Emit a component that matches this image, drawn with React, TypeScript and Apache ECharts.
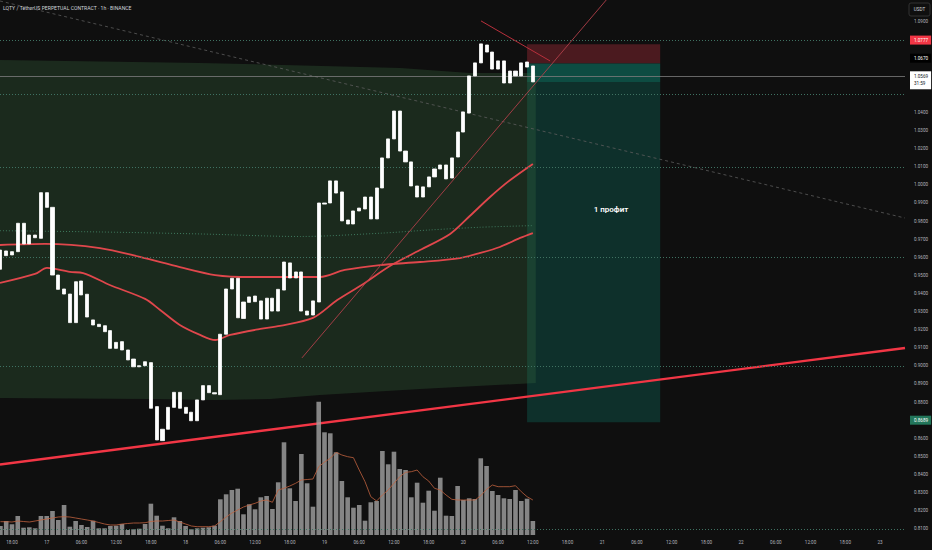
import React, { useEffect, useRef } from "react";
import * as echarts from "echarts";

// hours counted from the 16th, 00:00; first candle = 16th 16:00
const FIRST_HOUR = 16;
const X_MIN = 15.93;
const X_MAX = 172.3;
const PRICE_MIN = 0.8;
const PRICE_MAX = 1.10215;

const OPEN = [0.9534,0.9635,0.9613,0.9631,0.9788,0.9674,0.9723,0.9705,0.9957,0.9876,0.9502,0.9425,0.9397,0.9239,0.9469,0.9396,0.9254,0.9230,0.9222,0.9195,0.9097,0.9134,0.9088,0.9038,0.9001,0.9001,0.9018,0.8775,0.8587,0.8650,0.8771,0.8854,0.8771,0.8744,0.8697,0.8812,0.8891,0.8852,0.8841,0.9175,0.9425,0.9484,0.9262,0.9351,0.9386,0.9359,0.9259,0.9374,0.9303,0.9419,0.9569,0.9486,0.9519,0.9303,0.9281,0.9353,0.9900,0.9900,1.0022,0.9961,0.9806,0.9784,0.9856,0.9867,0.9933,0.9812,0.9983,1.0149,1.0254,1.0408,1.0187,1.0127,0.9994,0.9933,0.9989,1.0044,1.0088,1.0110,1.0038,1.0154,1.0292,1.0397,1.0602,1.0674,1.0773,1.0734,1.0640,1.0685,1.0563,1.0629,1.0602,1.0679,1.0657];
const CLOSE = [0.9640,0.9609,0.9631,0.9788,0.9674,0.9723,0.9708,0.9957,0.9876,0.9502,0.9423,0.9397,0.9239,0.9465,0.9392,0.9270,0.9226,0.9217,0.9189,0.9097,0.9130,0.9088,0.9033,0.8995,0.8995,0.9023,0.8766,0.8591,0.8650,0.8771,0.8854,0.8766,0.8738,0.8697,0.8812,0.8891,0.8852,0.8845,0.9175,0.9425,0.9484,0.9266,0.9353,0.9381,0.9355,0.9259,0.9374,0.9303,0.9423,0.9574,0.9486,0.9519,0.9303,0.9281,0.9359,0.9900,0.9894,1.0022,0.9955,0.9801,0.9784,0.9856,0.9872,0.9933,0.9812,0.9983,1.0149,1.0254,1.0408,1.0187,1.0127,0.9994,0.9933,0.9989,1.0044,1.0088,1.0110,1.0033,1.0149,1.0292,1.0403,1.0602,1.0674,1.0779,1.0734,1.0640,1.0685,1.0563,1.0629,1.0602,1.0674,1.0651,1.0569];
const LOW = [0.9497,0.9585,0.9591,0.9581,0.9659,0.9655,0.9686,0.9701,0.9824,0.9396,0.9396,0.9175,0.9234,0.9226,0.9386,0.9180,0.9180,0.9143,0.9180,0.9094,0.9088,0.8968,0.9018,0.8986,0.8959,0.8995,0.8762,0.8587,0.8563,0.8587,0.8766,0.8756,0.8686,0.8664,0.8692,0.8806,0.8826,0.8826,0.8836,0.9134,0.9419,0.9232,0.9259,0.9239,0.9337,0.9239,0.9241,0.9272,0.9147,0.9364,0.9453,0.9403,0.9038,0.9276,0.9270,0.9348,0.9707,0.9845,0.9917,0.9795,0.9707,0.9707,0.9790,0.9817,0.9806,0.9806,0.9961,1.0138,1.0248,1.0182,1.0038,0.9989,0.9905,0.9928,0.9983,1.0038,0.9961,0.9994,1.0011,1.0149,1.0287,1.0386,1.0524,1.0607,1.0701,1.0624,1.0569,1.0541,1.0513,1.0524,1.0596,1.0591,1.0563];
const HIGH = [0.9657,0.9668,0.9690,0.9830,0.9797,0.9751,0.9747,0.9963,1.0027,0.9880,0.9631,0.9456,0.9419,0.9484,0.9515,0.9400,0.9351,0.9235,0.9244,0.9217,0.9153,0.9143,0.9097,0.9079,0.9033,0.9149,0.9042,0.8784,0.8738,0.8793,0.8977,0.8922,0.8830,0.8784,0.8845,0.8913,0.8981,0.8940,0.9232,0.9456,0.9502,0.9488,0.9392,0.9429,0.9462,0.9425,0.9388,0.9423,0.9432,0.9701,0.9624,0.9547,0.9624,0.9475,0.9475,0.9961,0.9944,1.0187,1.0165,1.0038,0.9834,0.9889,0.9955,0.9955,1.0011,1.0011,1.0215,1.0292,1.0453,1.0414,1.0248,1.0132,1.0055,1.0027,1.0149,1.0121,1.0209,1.0182,1.0221,1.0331,1.0425,1.0629,1.0729,1.0906,1.0850,1.0784,1.0817,1.0701,1.0696,1.0651,1.0767,1.0773,1.0679];

// volume in thousands
const VOLUME = [90,140,107,190,73,77,67,190,190,240,150,300,83,140,100,80,143,67,67,90,93,110,50,57,63,110,313,193,93,67,177,140,90,57,67,73,77,93,357,407,450,463,207,307,257,377,390,260,527,927,467,340,810,517,283,1333,1027,1017,827,540,377,273,300,143,327,340,840,707,833,660,650,377,523,323,443,243,573,193,190,490,350,367,360,767,690,440,400,367,360,450,340,363,140];
const VOLUME_MA = [133,133,130,140,135,130,140,150,160,170,180,183,180,170,160,150,140,125,110,100,100,110,115,120,120,123,135,140,140,145,150,130,110,90,83,83,83,90,133,180,220,250,280,300,317,340,350,327,450,467,490,517,550,555,560,683,730,767,827,800,783,773,650,533,383,340,400,450,517,583,627,633,650,583,540,467,450,400,357,350,350,350,350,393,457,500,483,483,483,493,433,383,350];
const VOLUME_MAX = 1400;

// moving averages [hour, price]
const MA_FAST = [[15.93,0.9458],[21.97,0.9508],[24.05,0.9541],[28.0,0.9519],[30.3,0.9513],[34.9,0.9447],[41.0,0.9370],[43.6,0.9309],[47.0,0.9226],[50.5,0.9171],[53.1,0.9143],[55.7,0.9171],[60.9,0.9204],[64.3,0.9221],[70.0,0.9265],[74.2,0.9364],[78.7,0.9453],[83.3,0.9552],[88.5,0.9640],[93.7,0.9729],[97.1,0.9828],[100.6,0.9933],[104.1,1.0027],[108.0,1.0116]];
const MA_SLOW = [[15.93,0.9668],[23.7,0.9674],[33.2,0.9651],[40.1,0.9602],[47.0,0.9546],[53.1,0.9502],[59.1,0.9491],[64.3,0.9491],[71.2,0.9491],[75.5,0.9530],[81.6,0.9557],[88.5,0.9574],[95.4,0.9596],[98.9,0.9624],[102.3,0.9657],[105.8,0.9707],[108.0,0.9734]];
const VWAP_LINE = [[15.93,0.9747],[33.2,0.9740],[50.5,0.9729],[67.8,0.9715],[81.6,0.9733],[90.2,0.9751],[98.9,0.9766],[108.0,0.9775]];

// shaded range
const BAND_TOP = [[15.93,1.0690],[50.5,1.0674],[85.1,1.0646],[97.1,1.0618],[108.5,1.0618]];
const BAND_BOTTOM = [[15.93,0.8823],[41.8,0.8817],[53.1,0.8812],[62.6,0.8817],[71.2,0.8839],[88.5,0.8872],[108.5,0.8906]];

const LEVELS = [1.0806, 1.0458, 1.0104, 0.9596, 0.8961, 0.8115];
const TRENDLINE = [[15.93,0.8455],[172.3,0.9099]];
const RISE_LINE = [[68.1,0.9044],[125.0,1.1184]];
const FALL_DASH = [[15.93,1.1016],[172.3,0.9817]];
const PEAK_LINE = [[99.04,1.0906],[110.97,1.0685]];

const POS_START = 107;
const POS_END = 130;
const STOP = 1.0777;
const ENTRY = 1.0670;
const TARGET = 0.8689;
const LAST_PRICE = 1.0569;
const COUNTDOWN = "31:59";
const POS_TEXT = "1 профит";
const POS_TEXT_AT = [121.5, 0.9866];

const TITLE = "LQTY / TetherUS PERPETUAL CONTRACT · 1h · BINANCE";
const HIDDEN_TICKS = [1.10, 1.08, 1.06, 1.05, 0.87, 0.80];

const FONT = "Roboto, 'Noto Sans', sans-serif";
const AXIS_TEXT = "#b2b5be";

export default function App() {
  const ref = useRef<HTMLDivElement>(null);
  useEffect(() => {
    if (!ref.current) return;
    const chart = echarts.init(ref.current, undefined, { renderer: "svg" });
    const hours = OPEN.map((_, i) => FIRST_HOUR + i);
    const bodies = OPEN.map((o, i) => [hours[i], o, CLOSE[i], Math.min(o, CLOSE[i]), Math.max(o, CLOSE[i])]);
    const wicks = OPEN.map((_, i) => [hours[i], LOW[i], HIGH[i], LOW[i], HIGH[i]]);
    const vol = VOLUME.map((v, i) => [hours[i], v]);
    const volMa = VOLUME_MA.map((v, i) => [hours[i], v]);

    const priceLabel = (bg: string, fg: string, text: string, extra: any = {}) => ({
      show: true,
      position: "end",
      distance: 5,
      formatter: text,
      backgroundColor: bg,
      color: fg,
      padding: [2, 3, 2, 4],
      fontSize: 4.6,
      fontFamily: FONT,
      ...extra,
    });

    const option: any = {
      animation: false,
      backgroundColor: "#0f0f0f",
      grid: [
        { left: 0, right: 27, top: 0, bottom: 3.1 },
        { left: 0, right: 27, top: 395, bottom: 15 },
        { left: 12, right: 52, top: 535, height: 1 },
      ],
      xAxis: [
        { type: "value", gridIndex: 0, min: X_MIN, max: X_MAX, show: false },
        { type: "value", gridIndex: 1, min: X_MIN, max: X_MAX, show: false },
        {
          type: "value", gridIndex: 2, min: 18, max: 168, interval: 6,
          axisLine: { show: false }, axisTick: { show: false }, splitLine: { show: false },
          axisLabel: {
            fontSize: 4.6, color: AXIS_TEXT, margin: 4, fontFamily: FONT,
            formatter: (v: number) => {
              const h = Math.round(v);
              const day = 16 + Math.floor(h / 24);
              const hh = h % 24;
              return hh === 0 ? String(day) : String(hh).padStart(2, "0") + ":00";
            },
          },
        },
      ],
      yAxis: [
        {
          type: "value", gridIndex: 0, position: "right", min: PRICE_MIN, max: PRICE_MAX, interval: 0.01,
          axisLine: { show: false }, axisTick: { show: false }, splitLine: { show: false },
          axisLabel: {
            fontSize: 4.6, color: AXIS_TEXT, margin: 9, fontFamily: FONT, showMaxLabel: false,
            formatter: (v: number) => {
              const r = Math.round(v * 100) / 100;
              if (HIDDEN_TICKS.some((t) => Math.abs(t - r) < 1e-6)) return "";
              return r.toFixed(4);
            },
          },
        },
        { type: "value", gridIndex: 1, min: 0, max: VOLUME_MAX, show: false },
        { type: "value", gridIndex: 2, show: false },
      ],
      series: [
        {
          type: "custom", name: "range", xAxisIndex: 0, yAxisIndex: 0, z: 2, silent: true,
          data: [[BAND_TOP[0][0], BAND_TOP[0][1]]],
          renderItem: (_p: any, api: any) => {
            const pts = [
              ...BAND_TOP.map((p) => api.coord(p)),
              ...BAND_BOTTOM.slice().reverse().map((p) => api.coord(p)),
            ];
            return { type: "polygon", shape: { points: pts }, style: { fill: "rgba(55,105,62,0.3)" } };
          },
          markArea: {
            silent: true,
            data: [
              [{ coord: [POS_START, STOP], itemStyle: { color: "#4b1a1f", borderWidth: 0 } }, { coord: [POS_END, ENTRY] }],
              [{ coord: [POS_START, ENTRY], itemStyle: { color: "#0d4c42", borderWidth: 0 } }, { coord: [POS_END, LAST_PRICE] }],
              [{ coord: [POS_START, LAST_PRICE], itemStyle: { color: "#0e302b", borderWidth: 0 } }, { coord: [POS_END, TARGET] }],
            ],
          },
          markLine: {
            silent: true, symbol: ["none", "none"],
            data: [
              ...LEVELS.map((l) => ({ yAxis: l, lineStyle: { color: "#3f7262", width: 1, type: [1, 2] }, label: { show: false } })),
              { yAxis: LAST_PRICE, lineStyle: { color: "#7c7c7c", width: 0.8, type: "solid" },
                label: priceLabel("#ffffff", "#131722", LAST_PRICE.toFixed(4) + "\n" + COUNTDOWN, { lineHeight: 7, offset: [0, 4] }) },
              { yAxis: STOP, lineStyle: { color: "transparent", width: 0 }, label: priceLabel("#f23645", "#ffffff", STOP.toFixed(4)) },
              { yAxis: ENTRY, lineStyle: { color: "transparent", width: 0 }, label: priceLabel("#000000", "#ffffff", ENTRY.toFixed(4)) },
              { yAxis: TARGET, lineStyle: { color: "transparent", width: 0 }, label: priceLabel("#22765a", "#ffffff", TARGET.toFixed(4)) },
            ],
          },
        },
        {
          type: "line", name: "vwap", data: VWAP_LINE, xAxisIndex: 0, yAxisIndex: 0, z: 2,
          symbol: "none", smooth: 0.3, lineStyle: { color: "#3f7a5e", width: 1, type: [1, 2] },
        },
        {
          type: "line", name: "trend", data: TRENDLINE, xAxisIndex: 0, yAxisIndex: 0, z: 3,
          symbol: "none", lineStyle: { color: "#f23645", width: 2.4 },
        },
        {
          type: "line", name: "fall", data: FALL_DASH, xAxisIndex: 0, yAxisIndex: 0, z: 3,
          symbol: "none", lineStyle: { color: "#5c5c5c", width: 0.8, type: [3, 3] },
        },
        {
          type: "line", name: "maSlow", data: MA_SLOW, xAxisIndex: 0, yAxisIndex: 0, z: 3,
          symbol: "none", smooth: 0.3, lineStyle: { color: "#e0474c", width: 1.8 },
        },
        {
          type: "line", name: "maFast", data: MA_FAST, xAxisIndex: 0, yAxisIndex: 0, z: 3,
          symbol: "none", smooth: 0.3, lineStyle: { color: "#e0474c", width: 1.8 },
        },
        {
          type: "candlestick", name: "wicks", data: wicks, xAxisIndex: 0, yAxisIndex: 0, z: 4, barWidth: 1,
          itemStyle: { color: "#8a8a8a", color0: "#8a8a8a", borderColor: "#8a8a8a", borderColor0: "#8a8a8a", borderColorDoji: "#8a8a8a", borderWidth: 0 },
        },
        {
          type: "candlestick", name: "bodies", data: bodies, xAxisIndex: 0, yAxisIndex: 0, z: 5, barWidth: 3.6,
          itemStyle: { color: "#ffffff", color0: "#ffffff", borderColor: "#ffffff", borderColor0: "#ffffff", borderColorDoji: "#ffffff", borderWidth: 0.8 },
        },
        {
          type: "line", name: "peak", data: PEAK_LINE, xAxisIndex: 0, yAxisIndex: 0, z: 6,
          symbol: "none", lineStyle: { color: "#b8303c", width: 1 },
        },
        {
          type: "line", name: "rise", data: RISE_LINE, xAxisIndex: 0, yAxisIndex: 0, z: 6,
          symbol: "none", lineStyle: { color: "#b0404a", width: 0.9 },
        },
        {
          type: "bar", name: "volume", data: vol, xAxisIndex: 1, yAxisIndex: 1, z: 4, barWidth: 4.6,
          itemStyle: { color: "rgba(160,160,160,0.82)" },
        },
        {
          type: "line", name: "volumeMa", data: volMa, xAxisIndex: 1, yAxisIndex: 1, z: 5,
          symbol: "none", lineStyle: { color: "#c0623f", width: 0.8 },
        },
      ],
    };
    chart.setOption(option);
    const [tx, ty] = chart.convertToPixel({ gridIndex: 0 }, POS_TEXT_AT) as number[];
    chart.setOption({
      graphic: [
        { type: "text", left: 3, top: 5.5, style: { text: TITLE, fill: "#d1d4dc", font: `5.1px ${FONT}` } },
        { type: "rect", shape: { x: 909, y: 3, width: 21, height: 13, r: 2 }, style: { fill: "#0f0f0f", stroke: "#3a3a3a", lineWidth: 0.8 } },
        { type: "text", x: 919.5, y: 9.5, style: { text: "USDT", fill: "#d1d4dc", font: `4.6px ${FONT}`, align: "center", verticalAlign: "middle" } },
        { type: "text", x: tx, y: ty, z: 10, style: { text: POS_TEXT, fill: "#ffffff", font: `600 8px ${FONT}`, align: "center", verticalAlign: "middle" } },
      ],
    });
    return () => chart.dispose();
  }, []);
  return <div ref={ref} style={{ position: "fixed", left: 0, top: 0, width: 932, height: 550, background: "#0f0f0f" }} />;
}
